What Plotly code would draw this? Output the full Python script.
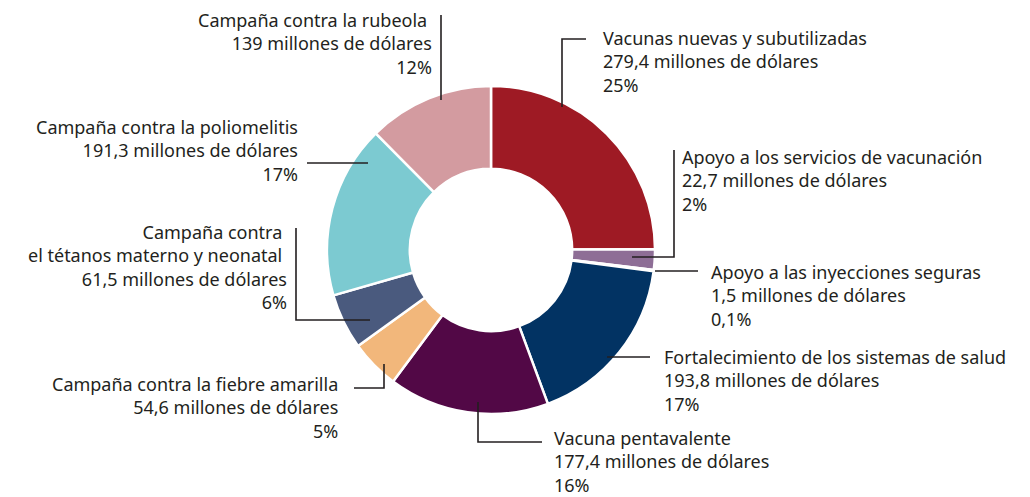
import plotly.graph_objects as go

labels = [
    "Vacunas nuevas y subutilizadas",
    "Apoyo a los servicios de vacunación",
    "Apoyo a las inyecciones seguras",
    "Fortalecimiento de los sistemas de salud",
    "Vacuna pentavalente",
    "Campaña contra la fiebre amarilla",
    "Campaña contra\u00a0<br>el tétanos materno y neonatal\u00a0",
    "Campaña contra la poliomelitis",
    "Campaña contra la rubeola\u00a0",
]
values = [279.4, 22.7, 1.5, 193.8, 177.4, 54.6, 61.5, 191.3, 139]
value_text = ["279,4", "22,7", "1,5", "193,8", "177,4", "54,6", "61,5", "191,3", "139"]
pct_text = ["25%", "2%", "0,1%", "17%", "16%", "5%", "6%", "17%", "12%"]
colors = ["#9E1A24", "#8E6E96", "#9CB87E", "#023363", "#520846",
          "#F2B77B", "#4A5A7E", "#7CCAD1", "#D39BA0"]

W, H = 1030, 497
cx, cy, R = 491, 250, 164

# label layout: (x, block center y, anchor side)
label_pos = [
    (601, 61, "left"),
    (680, 180, "left"),
    (709, 295, "left"),
    (662, 380, "left"),
    (552, 461, "left"),
    (340, 407, "right"),
    (289, 266.5, "right"),
    (300, 150, "right"),
    (434, 43.5, "right"),
]
# leader polylines (pixel coordinates)
leaders = [
    [(562, 107), (562, 39), (586, 39)],
    [(632, 257), (674, 257), (674, 150)],
    [(655, 271), (698, 271)],
    [(607, 357), (650, 357)],
    [(478, 402), (478, 442), (542, 442)],
    [(384, 364), (384, 388), (354, 388)],
    [(370, 320), (296, 320), (296, 228)],
    [(368, 163), (307, 163)],
    [(441, 100), (441, 15)],
]

fig = go.Figure()
fig.add_trace(go.Pie(
    labels=[l.replace("<br>", " ").replace("\u00a0", "") for l in labels],
    values=values, hole=0.495, sort=False, direction="clockwise",
    rotation=0, textinfo="none", hoverinfo="label+value+percent",
    marker=dict(colors=colors, line=dict(color="white", width=2.5)),
    domain=dict(x=[(cx - R) / W, (cx + R) / W], y=[(H - cy - R) / H, (H - cy + R) / H]),
    showlegend=False,
))

# invisible pixel axes for annotations and shapes
fig.add_trace(go.Scatter(x=[0, W], y=[0, H], mode="markers", marker=dict(opacity=0),
                         hoverinfo="skip", showlegend=False))
fig.update_xaxes(range=[0, W], visible=False, fixedrange=True)
fig.update_yaxes(range=[H, 0], visible=False, fixedrange=True)

font = dict(family="Noto Sans, Open Sans, sans-serif", size=18, color="#231F20")
for i, lab in enumerate(labels):
    x, yc, side = label_pos[i]
    txt = f"{lab}<br>{value_text[i]} millones de dólares<br>{pct_text[i]}"
    fig.add_annotation(x=x, y=yc, xref="x", yref="y", text=txt,
                       showarrow=False, xanchor=side, yanchor="middle",
                       align=side, font=font)

for pts in leaders:
    path = "M " + " L ".join(f"{px},{py}" for px, py in pts)
    fig.add_shape(type="path", path=path, xref="x", yref="y",
                  line=dict(color="#231F20", width=1.6))

fig.update_layout(width=W, height=H, margin=dict(l=0, r=0, t=0, b=0),
                  paper_bgcolor="white", plot_bgcolor="rgba(0,0,0,0)")
fig.write_html("out.html", config={"displayModeBar": False},
               post_script="document.body.style.margin='0';document.body.style.overflow='hidden';")
